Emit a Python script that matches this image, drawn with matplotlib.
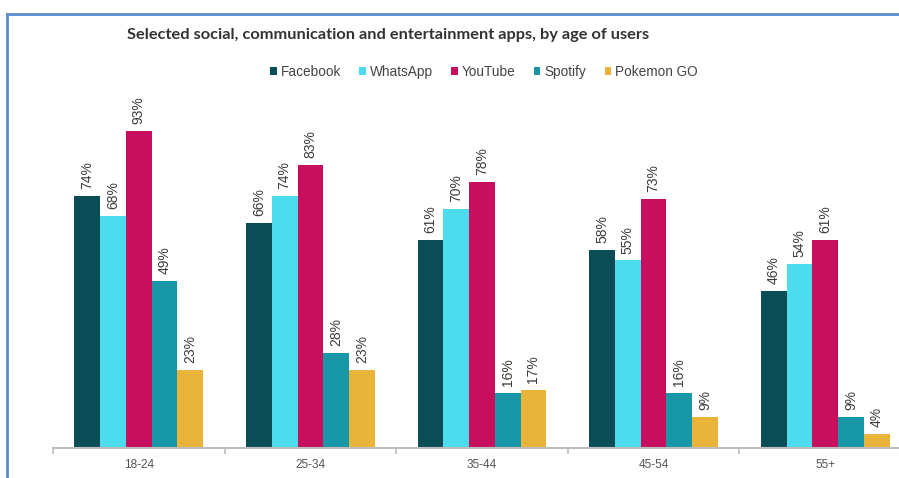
import matplotlib.pyplot as plt
import numpy as np
from matplotlib.lines import Line2D

# data
age_groups = ['18-24', '25-34', '35-44', '45-54', '55+']
apps = ['Facebook', 'WhatsApp', 'YouTube', 'Spotify', 'Pokemon GO']
facebook = [74, 66, 61, 58, 46]
whatsapp = [68, 74, 70, 55, 54]
youtube = [93, 83, 78, 73, 61]
spotify = [49, 28, 16, 16, 9]
pokemon_go = [23, 23, 17, 9, 4]
colors = ['#0b4d57', '#4cdcee', '#c80f5d', '#1897a6', '#e8b43a']

series = [facebook, whatsapp, youtube, spotify, pokemon_go]

fig = plt.figure(figsize=(8.99, 4.78), dpi=100)
ax = fig.add_axes([53 / 899, 30 / 478, 858 / 899, 341 / 478])

x = np.arange(len(age_groups))
w = 0.15
for i, (vals, name, c) in enumerate(zip(series, apps, colors)):
    pos = x + (i - 2) * w
    bars = ax.bar(pos, vals, w, color=c, label=name)
    for b, v in zip(bars, vals):
        ax.annotate(f'{v}%', (b.get_x() + b.get_width() / 2, v),
                    xytext=(0, 5), textcoords='offset points',
                    rotation=90, ha='center', va='bottom',
                    fontsize=10, color='#3c3c3c', family='Liberation Sans',
                    annotation_clip=False)

ax.set_xlim(-0.5, 4.5)
ax.set_ylim(0, 100)
ax.set_yticks([])
for s in ['top', 'right', 'left']:
    ax.spines[s].set_visible(False)
ax.spines['bottom'].set_color('#bdbdbd')
ax.spines['bottom'].set_linewidth(1.5)

ax.set_xticks(x)
ax.set_xticklabels(age_groups, fontsize=8.5, color='#555555', family='Liberation Sans')
ax.tick_params(axis='x', which='major', length=0, pad=8)
ax.set_xticks(np.arange(-0.5, 5, 1), minor=True)
ax.tick_params(axis='x', which='minor', length=4, color='#bdbdbd', width=1.2)

fig.text(388 / 899, 1 - 35 / 478, 'Selected social, communication and entertainment apps, by age of users',
         ha='center', va='center', fontsize=11.8, fontweight='bold', family='Lato', color='#333333')

fig.legend(loc='center', bbox_to_anchor=(484 / 899, 1 - 72 / 478), ncol=5, frameon=False,
           prop={'family': 'Liberation Sans', 'size': 9.8},
           handlelength=0.47, handleheight=0.47, handletextpad=0.3, columnspacing=1.35,
           labelcolor='#444444')

# blue frame around the picture
fig.add_artist(Line2D([7 / 899, 1], [1 - 13.5 / 478, 1 - 13.5 / 478], color='#5b8bd0', lw=2))
fig.add_artist(Line2D([7 / 899, 7 / 899], [0, 1 - 13.5 / 478], color='#5b8bd0', lw=2))

fig.savefig('out.png', dpi=100)
